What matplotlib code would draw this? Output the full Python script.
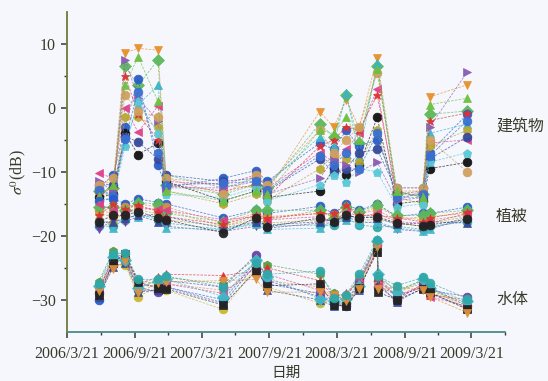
import matplotlib
matplotlib.use("Agg")
import matplotlib.pyplot as plt
import numpy as np
from datetime import datetime

# ---------------- data ----------------
dates = ['2006-06-15', '2006-07-25', '2006-08-26', '2006-09-30', '2006-11-23', '2006-12-15',
         '2007-05-19', '2007-08-15', '2007-09-15', '2008-02-04', '2008-03-13', '2008-04-16',
         '2008-05-21', '2008-07-09', '2008-08-31', '2008-11-09', '2008-11-28', '2009-03-10']
water_dates = ['2006-06-15', '2006-07-25', '2006-08-26', '2006-09-30', '2006-11-23', '2006-12-15',
               '2007-05-19', '2007-08-15', '2007-09-15', '2008-02-04', '2008-03-13', '2008-04-16',
               '2008-05-21', '2008-07-09', '2008-07-12', '2008-08-31', '2008-11-09', '2008-11-28',
               '2009-03-10']

building = [
    [-12.0, -11.5, 8.6, 9.3, 9.0, -11.0, -12.0, -12.5, -13.0, -0.6, -3.0, 1.2, -3.1, 7.8, -13.0, -13.0, 1.7, 3.6],
    [-13.0, -12.5, 6.5, 3.5, 7.5, -12.0, -13.5, -12.0, -12.5, -2.5, -4.5, 2.0, -5.5, 6.5, -13.5, -13.5, -1.0, -0.5],
    [-12.5, -10.5, -3.0, 4.5, -9.0, -12.5, -11.0, -9.8, -11.5, -5.5, -6.5, -3.5, -6.0, -5.0, -12.5, -12.5, -7.0, -1.0],
    [-13.5, -13.0, -5.5, 0.5, 3.5, -10.5, -12.5, -11.0, -12.0, -4.5, -6.0, 2.3, -7.5, 7.0, -14.0, -14.0, -4.0, -2.5],
    [-10.2, -11.0, 0.0, -3.8, 0.3, -11.5, -12.0, -10.5, -12.5, -7.0, -8.5, -6.5, -4.0, 3.0, -14.5, -13.0, -5.5, -5.0],
    [-14.0, -13.5, -4.0, -7.3, -5.5, -11.5, -14.5, -13.0, -14.0, -13.0, -9.5, -10.5, -9.0, -1.5, -15.0, -14.5, -9.5, -8.5],
    [-13.0, -14.0, -1.5, -1.5, -3.0, -13.0, -15.0, -13.5, -14.5, -9.5, -7.5, -8.0, -8.5, -3.5, -14.0, -15.0, -6.0, -3.5],
    [-12.0, -12.0, -4.5, -5.3, -8.0, -10.5, -11.5, -11.0, -13.0, -8.0, -10.0, -9.5, -7.0, -6.5, -13.0, -14.0, -8.0, -4.5],
    [-13.5, -12.5, 5.0, -1.0, -5.0, -12.0, -13.0, -12.0, -14.0, -6.0, -5.0, -3.0, -3.5, 2.0, -13.5, -13.0, -2.0, -0.8],
    [-11.5, -13.0, 7.5, 1.5, -2.0, -12.5, -12.5, -11.5, -13.5, -11.0, -8.0, -9.0, -10.0, -8.5, -14.5, -14.0, -3.0, 5.6],
    [-14.5, -14.0, -6.0, 1.0, -4.0, -13.5, -14.0, -12.5, -14.5, -12.0, -10.5, -11.6, -9.5, -10.0, -15.5, -15.0, -8.5, -7.0],
    [-12.0, -11.0, 2.0, -0.5, -1.5, -11.0, -13.5, -10.5, -12.0, -3.5, -7.0, -5.0, -3.0, 5.5, -12.5, -12.5, -5.0, -10.0],
    [-12.8, -13.8, -4.8, 2.5, -7.0, -12.0, -11.8, -11.5, -12.8, -7.5, -9.0, -7.0, -9.5, -4.0, -14.0, -13.5, -7.5, -2.0],
    [-13.8, -12.0, 3.5, 8.0, 1.0, -13.0, -14.5, -13.0, -13.5, -3.5, -4.0, -1.5, -5.0, 6.0, -13.0, -14.0, 0.5, 1.5],
]

vegetation = [
    [-16.5, -17.0, -16.5, -15.5, -16.0, -16.0, -18.5, -17.0, -17.5, -16.0, -17.0, -15.8, -16.5, -16.0, -17.5, -17.0, -17.5, -16.8],
    [-18.5, -18.5, -17.5, -16.5, -17.5, -18.0, -19.0, -18.0, -18.5, -18.3, -18.3, -17.2, -18.3, -18.6, -18.5, -19.0, -18.5, -17.8],
    [-14.5, -14.2, -15.0, -14.2, -14.8, -15.0, -17.2, -16.0, -16.5, -15.4, -16.5, -15.0, -16.0, -15.0, -17.0, -16.5, -16.5, -15.5],
    [-17.5, -18.0, -16.0, -16.0, -16.5, -17.5, -18.5, -17.5, -18.0, -17.5, -17.5, -16.5, -17.5, -17.5, -18.0, -18.5, -18.0, -17.0],
    [-19.0, -17.5, -17.8, -17.0, -16.5, -18.5, -19.3, -18.5, -18.8, -18.0, -18.0, -17.0, -17.8, -18.0, -19.0, -19.3, -18.8, -17.5],
    [-16.0, -16.5, -15.5, -15.0, -15.5, -15.5, -18.0, -16.5, -17.0, -16.5, -16.8, -16.0, -16.5, -15.5, -17.0, -17.5, -17.0, -16.5],
    [-15.5, -15.5, -16.0, -14.8, -15.0, -16.5, -17.8, -16.0, -16.0, -16.0, -17.2, -15.5, -16.2, -15.2, -16.8, -16.8, -16.5, -16.0],
    [-15.0, -16.0, -16.5, -15.8, -15.8, -16.0, -17.5, -17.0, -17.5, -17.0, -17.8, -16.2, -17.0, -16.5, -17.8, -18.0, -18.0, -16.5],
    [-17.0, -18.8, -17.0, -17.0, -17.0, -18.8, -19.0, -18.2, -19.0, -18.8, -18.0, -17.5, -18.0, -17.8, -18.8, -19.2, -19.0, -17.0],
    [-18.0, -17.8, -17.2, -16.8, -17.8, -17.0, -18.8, -17.8, -18.3, -17.8, -17.5, -17.0, -17.0, -17.2, -18.2, -18.0, -17.8, -18.0],
    [-16.8, -15.0, -15.8, -15.2, -16.2, -17.0, -18.2, -16.8, -17.2, -16.5, -16.5, -15.2, -16.8, -16.8, -17.2, -17.8, -17.2, -16.2],
    [-17.8, -16.8, -16.8, -16.2, -17.2, -17.5, -19.5, -17.2, -18.6, -17.2, -17.8, -16.8, -17.2, -17.0, -18.0, -18.5, -18.3, -17.4],
]

water = [
    [-30.0, -24.0, -23.5, -28.5, -28.5, -28.0, -30.0, -24.0, -27.5, -29.0, -30.5, -30.5, -27.0, -21.5, -27.0, -29.5, -28.0, -28.0, -31.0],
    [-27.2, -22.3, -23.0, -27.0, -27.5, -26.5, -27.5, -23.5, -24.5, -26.0, -29.0, -29.5, -26.5, -21.0, -26.5, -28.5, -27.0, -28.5, -30.5],
    [-28.5, -23.5, -24.0, -28.0, -27.0, -27.5, -28.5, -26.0, -27.0, -28.0, -29.5, -30.0, -27.5, -21.5, -27.5, -28.5, -27.5, -28.8, -30.8],
    [-28.0, -24.5, -24.5, -29.5, -28.0, -28.5, -31.5, -25.0, -28.0, -30.5, -30.0, -30.5, -28.0, -22.0, -28.0, -29.0, -27.0, -28.0, -31.5],
    [-28.8, -23.0, -23.2, -27.5, -26.5, -26.0, -26.2, -25.5, -25.0, -27.0, -29.5, -29.0, -27.0, -22.5, -26.5, -29.5, -28.0, -29.2, -30.0],
    [-29.0, -24.0, -23.8, -28.0, -28.8, -27.0, -28.0, -23.0, -27.0, -29.5, -30.5, -31.0, -27.5, -21.0, -28.0, -30.0, -27.5, -28.5, -29.5],
    [-29.5, -24.8, -24.2, -28.8, -28.5, -28.0, -30.5, -24.5, -28.5, -30.0, -31.0, -30.8, -28.5, -22.0, -27.5, -30.3, -28.2, -29.0, -31.2],
    [-28.2, -23.8, -23.0, -27.8, -27.8, -27.5, -29.0, -24.8, -26.0, -28.5, -29.8, -29.5, -26.8, -21.3, -27.8, -29.3, -27.8, -29.5, -31.0],
    [-27.8, -23.3, -23.8, -28.2, -27.0, -26.8, -29.5, -23.8, -26.5, -29.8, -30.2, -29.8, -27.8, -20.8, -26.0, -28.8, -26.8, -28.2, -30.2],
    [-29.2, -24.2, -22.8, -27.2, -28.2, -28.3, -30.8, -25.5, -27.8, -27.5, -30.8, -31.0, -28.2, -22.5, -28.8, -30.0, -28.3, -28.8, -31.5],
    [-28.6, -25.2, -24.0, -29.0, -27.3, -27.2, -27.0, -26.8, -28.8, -28.8, -29.2, -30.2, -28.3, -21.8, -28.3, -28.0, -28.5, -29.5, -32.0],
    [-27.5, -22.8, -22.7, -26.8, -26.8, -26.3, -28.0, -24.3, -26.0, -25.5, -29.7, -29.2, -26.0, -20.6, -26.3, -27.8, -26.5, -27.3, -29.8],
]

group_labels = ['建筑物', '植被', '水体']
group_label_y = [-3, -17, -30]
x_tick_labels = ['2006/3/21', '2006/9/21', '2007/3/21', '2007/9/21', '2008/3/21', '2008/9/21', '2009/3/21']
y_ticks = [-30, -20, -10, 0, 10]

# ---------------- styles ----------------
colors = ['#e8902a', '#5cb85c', '#2a5cc8', '#3cb4c8', '#e0408a', '#111111', '#b8a830',
          '#34499a', '#e03030', '#8a5ab4', '#58c8d8', '#d0a060', '#3a70d0', '#6cc040']
markers = ['v', 'D', 'o', '^', '<', 'o', 'h', 'o', '*', '>', 'p', 'o', 'o', '^']
veg_colors = ['#c89050', '#30a8a8', '#2a5cc8', '#b8a830', '#7040a0', '#e0903a',
              '#5cb85c', '#e0408a', '#40b8c8', '#34499a', '#e03030', '#222222']
veg_markers = ['h', 'o', 'o', 'h', 'v', 'o', 'D', '<', '^', '^', '*', 'o']
water_colors = ['#2a5cc8', '#5a9a40', '#d09a60', '#c8b830', '#e03030', '#7040a0',
                '#34499a', '#e0408a', '#40b8c8', '#222222', '#e0903a', '#30a8a8']
water_markers = ['o', 'h', 'h', 'o', '^', 'o', '^', '<', 'D', 's', 'v', 'o']

plt.rcParams['font.family'] = ['Liberation Serif', 'Noto Sans CJK SC', 'DejaVu Sans']
plt.rcParams['mathtext.fontset'] = 'stix'

fig = plt.figure(figsize=(5.48, 3.81), dpi=100)
bg = '#f5f7fc'
fig.patch.set_facecolor(bg)
ax = fig.add_axes([0.122, 0.129, 0.80, 0.84])
ax.set_facecolor(bg)

xd = [datetime.strptime(d, '%Y-%m-%d') for d in dates]
xw = [datetime.strptime(d, '%Y-%m-%d') for d in water_dates]

def draw(xs, groups, cols, mks):
    for i, ser in enumerate(groups):
        c = cols[i % len(cols)]
        m = mks[i % len(mks)]
        ax.plot(xs, ser, linestyle=(0, (3, 1.5)), linewidth=0.6, color=c, alpha=0.7)
        ax.plot(xs, ser, linestyle='none', marker=m, markersize=6.3,
                markerfacecolor=c, markeredgecolor=c, markeredgewidth=0.5, alpha=0.95)

draw(xd, building, colors, markers)
draw(xd, vegetation, veg_colors, veg_markers)
draw(xw, water, water_colors, water_markers)

ax.set_xlim(datetime(2006, 3, 21), datetime(2009, 6, 12))
ax.set_ylim(-35, 15)

major = [datetime(*[int(p) for p in s.split('/')]) for s in x_tick_labels]
ax.set_xticks(major)
ax.set_xticklabels(x_tick_labels)
minor = []
for d in major:
    m = d.month + 3
    y = d.year + (m - 1) // 12
    m = (m - 1) % 12 + 1
    minor.append(datetime(y, m, 21))
ax.set_xticks(minor, minor=True)
ax.set_yticks(y_ticks)
ax.set_yticks([-25, -15, -5, 5], minor=True)

for s in ['top', 'right']:
    ax.spines[s].set_visible(False)
ax.spines['left'].set_color('#6e7a3a')
ax.spines['bottom'].set_color('#4a8a8a')
ax.spines['left'].set_linewidth(1.3)
ax.spines['bottom'].set_linewidth(1.3)

ax.tick_params(axis='both', which='major', direction='out', length=4, width=1.1,
               colors='#3a3a2a', labelsize=11.5)
ax.tick_params(axis='x', which='major', pad=6)
ax.tick_params(axis='y', which='major', pad=4)
ax.tick_params(axis='both', which='minor', direction='out', length=2.5, width=1.0, colors='#3a3a2a')

ax.set_ylabel(r'$\sigma^0$(dB)', fontsize=11.5, color='#3a3a2a', labelpad=2)
ax.set_xlabel('日期', fontsize=10.5, color='#3a3a2a',
              family=['Noto Sans CJK SC'], labelpad=3)

for txt, yv in zip(group_labels, group_label_y):
    fig.text(0.905, ax.transData.transform((0, yv))[1] / fig.bbox.height, txt,
             fontsize=11.5, color='#3a3a2a', family=['Noto Sans CJK SC'], va='center', ha='left')

fig.savefig('out.png', dpi=100, facecolor=bg)
